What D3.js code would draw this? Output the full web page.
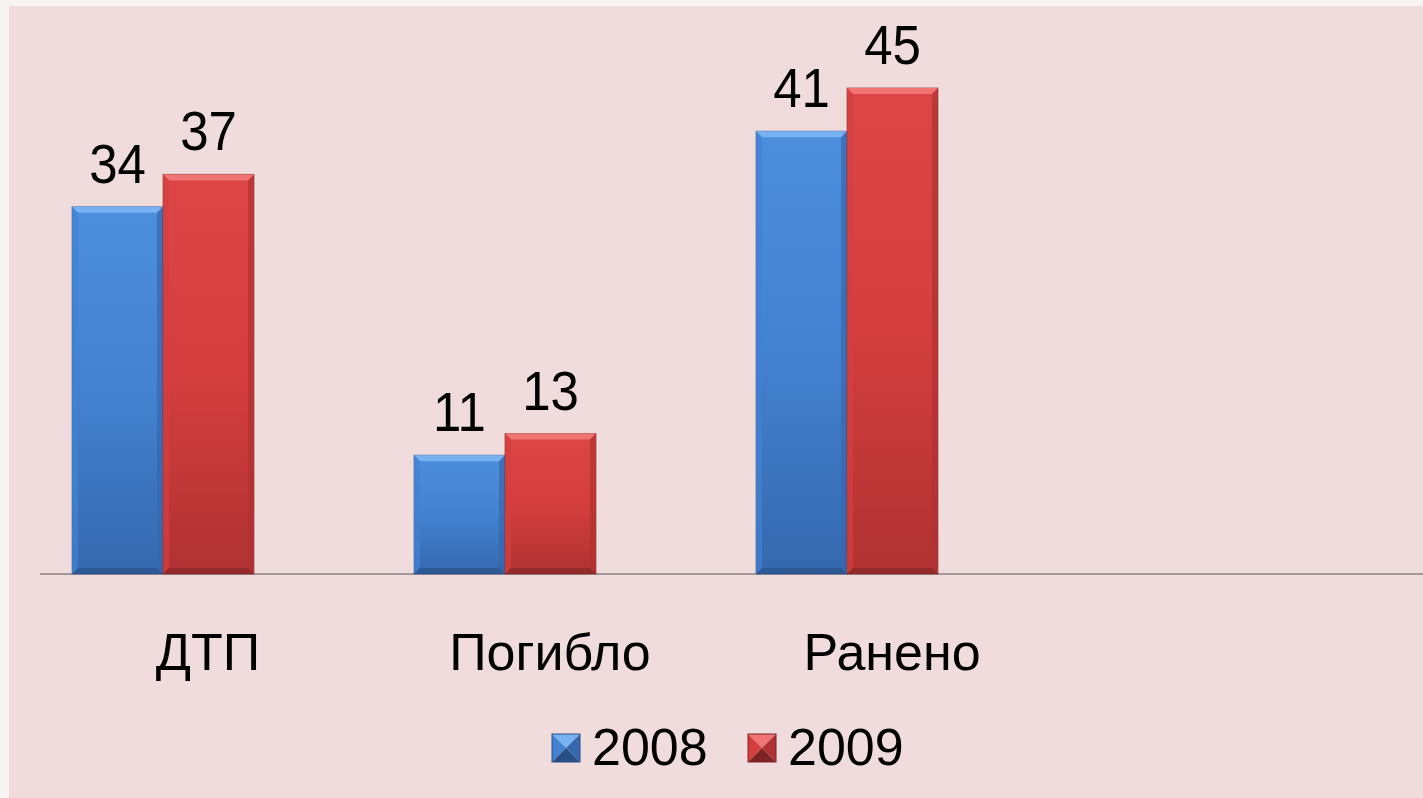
<!DOCTYPE html>
<html>
<head>
<meta charset="utf-8">
<script src="https://cdn.jsdelivr.net/npm/d3@7"></script>
<style>
  body { margin: 0; background: #f8f4f4; }
  svg { display: block; font-family: Arial, "Liberation Sans", sans-serif; }
</style>
</head>
<body>
<script>
var width = 1423;
var height = 798;

var categories = ['ДТП', 'Погибло', 'Ранено'];
var series = ['2008', '2009'];
var values2008 = [34, 11, 41];
var values2009 = [37, 13, 45];

var colors = {
  '2008': { top: '#4d8edc', mid: '#4382d0', bot: '#3568ae', edge: '#284f86', light: '#78b2f0' },
  '2009': { top: '#dc4646', mid: '#d43e3e', bot: '#b03232', edge: '#7e2424', light: '#f07474' }
};

var svg = d3.select('body').append('svg')
  .attr('width', width)
  .attr('height', height);

// pink panel
svg.append('rect')
  .attr('x', 9).attr('y', 6)
  .attr('width', width - 9).attr('height', height - 6)
  .attr('fill', '#f0dcdc');

var defs = svg.append('defs');
series.forEach(function(s) {
  var g = defs.append('linearGradient')
    .attr('id', 'grad' + s)
    .attr('x1', 0).attr('y1', 0).attr('x2', 0).attr('y2', 1);
  g.append('stop').attr('offset', '0%').attr('stop-color', colors[s].top);
  g.append('stop').attr('offset', '50%').attr('stop-color', colors[s].mid);
  g.append('stop').attr('offset', '100%').attr('stop-color', colors[s].bot);
});

var x0 = d3.scaleBand()
  .domain(categories)
  .range([-8, 1018])
  .paddingInner(0.468)
  .paddingOuter(0.234);

var x1 = d3.scaleBand()
  .domain(series)
  .range([0, x0.bandwidth()]);

var y = d3.scaleLinear()
  .domain([0, 50])
  .range([574, 34]);

var data = [];
categories.forEach(function(c, i) {
  data.push({ cat: c, s: '2008', v: values2008[i] });
  data.push({ cat: c, s: '2009', v: values2009[i] });
});

// axis line
svg.append('line')
  .attr('x1', 40).attr('x2', width)
  .attr('y1', y(0)).attr('y2', y(0))
  .attr('stroke', '#8a8080')
  .attr('stroke-width', 1.5);

var bars = svg.selectAll('g.bar')
  .data(data)
  .enter().append('g')
  .attr('class', 'bar')
  .attr('transform', function(d) {
    return 'translate(' + (x0(d.cat) + x1(d.s)) + ',' + y(d.v) + ')';
  });

var bw = x1.bandwidth();
var bev = 6;

bars.append('rect')
  .attr('width', bw)
  .attr('height', function(d) { return y(0) - y(d.v); })
  .attr('fill', function(d) { return 'url(#grad' + d.s + ')'; })
  .attr('stroke', function(d) { return colors[d.s].edge; })
  .attr('stroke-width', 1)
  .attr('stroke-opacity', 0.6);

// top bevel
bars.append('path')
  .attr('d', 'M0,0 L' + bw + ',0 L' + (bw - bev) + ',' + bev + ' L' + bev + ',' + bev + ' Z')
  .attr('fill', function(d) { return colors[d.s].light; });

// side bevels
bars.append('path')
  .attr('d', function(d) {
    var h = y(0) - y(d.v);
    return 'M0,0 L' + bev + ',' + bev + ' L' + bev + ',' + (h - bev) + ' L0,' + h + ' Z';
  })
  .attr('fill', function(d) { return colors[d.s].mid; })
  .attr('opacity', 0.7);
bars.append('path')
  .attr('d', function(d) {
    var h = y(0) - y(d.v);
    return 'M' + bw + ',0 L' + (bw - bev) + ',' + bev + ' L' + (bw - bev) + ',' + (h - bev) + ' L' + bw + ',' + h + ' Z';
  })
  .attr('fill', function(d) { return colors[d.s].bot; })
  .attr('opacity', 0.7);
// bottom bevel
bars.append('path')
  .attr('d', function(d) {
    var h = y(0) - y(d.v);
    return 'M0,' + h + ' L' + bev + ',' + (h - bev) + ' L' + (bw - bev) + ',' + (h - bev) + ' L' + bw + ',' + h + ' Z';
  })
  .attr('fill', function(d) { return colors[d.s].edge; })
  .attr('opacity', 0.6);

// value labels
svg.selectAll('text.val')
  .data(data)
  .enter().append('text')
  .attr('class', 'val')
  .attr('transform', function(d) {
    return 'translate(' + (x0(d.cat) + x1(d.s) + bw / 2) + ',' + (y(d.v) - 24) + ') scale(1,1.08)';
  })
  .attr('text-anchor', 'middle')
  .attr('font-size', 51)
  .attr('fill', '#000')
  .text(function(d) { return d.v; });

// category labels
svg.selectAll('text.cat')
  .data(categories)
  .enter().append('text')
  .attr('class', 'cat')
  .attr('x', function(d) { return x0(d) + x0.bandwidth() / 2 + 45; })
  .attr('y', 670)
  .attr('text-anchor', 'middle')
  .attr('font-size', 52)
  .attr('fill', '#000')
  .text(function(d) { return d; });

// legend
var legendX = [552, 748];
var legend = svg.selectAll('g.legend')
  .data(series)
  .enter().append('g')
  .attr('class', 'legend')
  .attr('transform', function(d, i) { return 'translate(' + legendX[i] + ',734)'; });

var sq = 28;
legend.append('path')
  .attr('d', 'M0,0 L' + sq + ',0 L' + sq / 2 + ',' + sq / 2 + ' Z')
  .attr('fill', function(d) { return colors[d].light; });
legend.append('path')
  .attr('d', 'M0,0 L' + sq / 2 + ',' + sq / 2 + ' L0,' + sq + ' Z')
  .attr('fill', function(d) { return colors[d].mid; });
legend.append('path')
  .attr('d', 'M' + sq + ',0 L' + sq / 2 + ',' + sq / 2 + ' L' + sq + ',' + sq + ' Z')
  .attr('fill', function(d) { return colors[d].bot; });
legend.append('path')
  .attr('d', 'M0,' + sq + ' L' + sq / 2 + ',' + sq / 2 + ' L' + sq + ',' + sq + ' Z')
  .attr('fill', function(d) { return colors[d].edge; });
legend.append('rect')
  .attr('width', sq).attr('height', sq)
  .attr('fill', 'none')
  .attr('stroke', function(d) { return colors[d].edge; })
  .attr('stroke-width', 1);

legend.append('text')
  .attr('x', 40)
  .attr('y', sq + 3)
  .attr('font-size', 52)
  .attr('fill', '#000')
  .text(function(d) { return d; });
</script>
</body>
</html>
